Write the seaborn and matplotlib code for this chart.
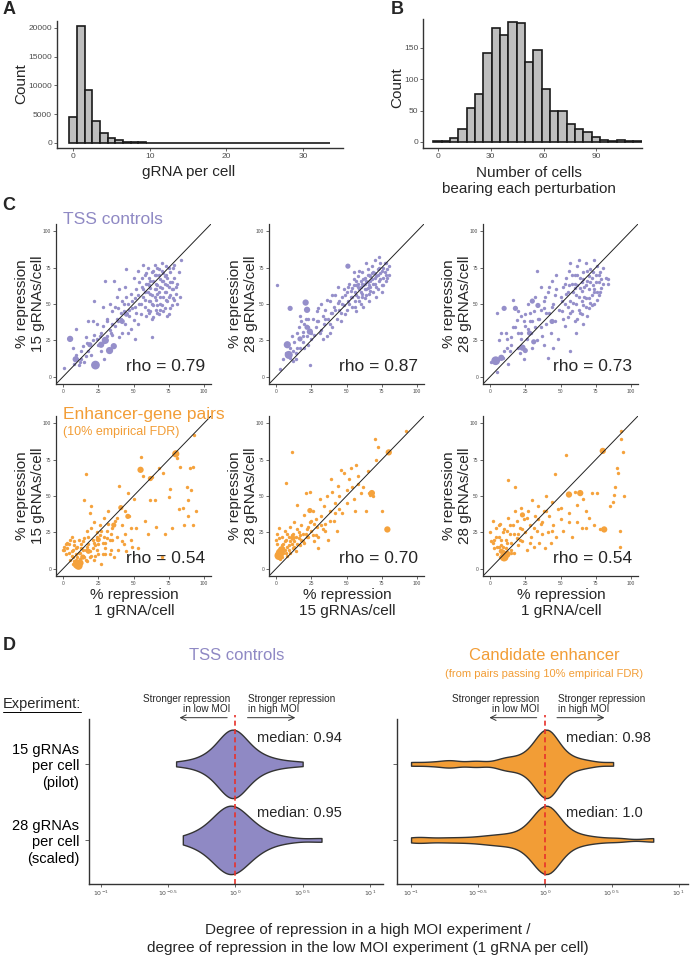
import numpy as np
import pandas as pd
import matplotlib
matplotlib.use('Agg')
import matplotlib.pyplot as plt
from matplotlib.lines import Line2D
import seaborn as sns

# ---------------- data ----------------
# A: gRNA per cell histogram (integer bins)
a_grna = list(range(34))
a_count = [4450, 20400, 9200, 3850, 1750, 880, 470, 240, 140, 90, 60, 40, 30, 22, 16, 12,
           10, 8, 6, 5, 4, 3, 3, 2, 2, 2, 1, 1, 1, 1, 1, 1, 1, 1]

# B: number of cells bearing each perturbation
b_center = [0, 5, 9, 14, 19, 24, 28, 33, 38, 42, 47, 52, 56, 61, 66, 71, 75, 80, 85, 89,
            94, 99, 103, 108, 113]
b_count = [1, 2, 6, 21, 54, 77, 142, 182, 171, 192, 190, 127, 147, 85, 49, 49, 29, 21, 16,
           8, 3, 2, 3, 1, 1]
b_binwidth = 4.72
b_binstart = -2.45

# C: % repression scatter, (x, y) pairs; *_big = (x, y, weight)
tss_1v15 = [
    (56, 62), (57, 55), (58, 70), (58, 48), (59, 64), (60, 58), (60, 75), (61, 52), (61, 68),
    (62, 45), (62, 61), (63, 72), (63, 56), (64, 66), (64, 49), (65, 60), (65, 77), (66, 53),
    (66, 70), (67, 63), (67, 44), (68, 58), (68, 74), (69, 50), (69, 67), (70, 61), (70, 78),
    (71, 55), (71, 71), (72, 47), (72, 64), (73, 58), (73, 76), (74, 52), (74, 68), (75, 62),
    (75, 43), (76, 72), (76, 56), (77, 65), (77, 49), (78, 75), (78, 60), (79, 68), (80, 57),
    (81, 64), (82, 72), (57, 77), (59, 42), (63, 40), (66, 46), (68, 43), (70, 49), (74, 42),
    (79, 53), (83, 55), (84, 80), (62, 66), (65, 70), (67, 57), (69, 62), (71, 66), (60, 64),
    (55, 50), (56, 68), (57, 60), (58, 53), (59, 71), (60, 46), (61, 63), (62, 57), (63, 50),
    (64, 73), (65, 55), (66, 64), (67, 49), (68, 70), (69, 55), (70, 66), (71, 45), (72, 69),
    (73, 53), (74, 63), (75, 75), (76, 47), (77, 60), (78, 54), (79, 77), (80, 62), (81, 50),
    (58, 58), (61, 44), (64, 41), (67, 75), (70, 73), (73, 70), (76, 65), (62, 52), (66, 60),
    (69, 46), (72, 58), (75, 55),
    (36, 66), (38, 55), (39, 47), (40, 60), (41, 40), (42, 52), (43, 45), (44, 62), (44, 36),
    (45, 74), (46, 50), (47, 42), (48, 57), (48, 33), (49, 47), (50, 68), (50, 39), (51, 54),
    (52, 44), (52, 60), (53, 36), (54, 50), (54, 65), (55, 43), (46, 30), (42, 30), (38, 40),
    (35, 45), (33, 50), (37, 35), (53, 73), (51, 26), (63, 27), (40, 27), (35, 29), (53, 56),
    (51, 48), (49, 52), (47, 46), (45, 55), (43, 50), (41, 44), (39, 38), (37, 48), (35, 36),
    (33, 32), (31, 28), (29, 24), (27, 30),
    (1, 6), (7, 20), (9, 33), (9, 15), (10, 12), (12, 10), (14, 21), (15, 10), (17, 23),
    (18, 38), (20, 15), (21, 38), (22, 29), (22, 52), (25, 22), (26, 28), (27, 18), (28, 35),
    (29, 12), (31, 38), (33, 18), (34, 30), (24, 36), (16, 14), (13, 18), (28, 48), (30, 66),
    (31, 40), (24, 26), (21, 25), (18, 18), (16, 27), (13, 12), (11, 8), (8, 9)]
tss_1v15_big = [(23, 8, 4), (30, 25, 3), (33, 18, 3), (36, 21, 2.5), (27, 22, 2.5),
                (19, 22, 2), (5, 26, 2.5), (9, 12, 2.5), (45, 43, 2), (42, 38, 2)]

tss_15v28 = [
    (50, 58), (51, 52), (52, 64), (53, 55), (54, 61), (54, 48), (55, 67), (56, 58), (56, 52),
    (57, 63), (58, 69), (58, 55), (59, 60), (60, 66), (60, 50), (61, 72), (61, 57), (62, 63),
    (63, 68), (63, 54), (64, 60), (65, 74), (65, 65), (66, 57), (66, 70), (67, 62), (68, 76),
    (68, 67), (69, 58), (69, 72), (70, 64), (70, 80), (71, 69), (72, 74), (72, 60), (73, 66),
    (74, 78), (74, 71), (75, 63), (76, 75), (76, 68), (77, 72), (78, 66), (79, 74), (80, 70),
    (62, 48), (57, 45), (66, 52), (71, 55), (64, 78), (59, 73), (55, 72), (75, 58), (78, 78),
    (73, 82), (58, 62), (61, 64), (64, 66), (67, 69), (70, 71),
    (45, 52), (46, 44), (47, 50), (49, 56), (50, 46), (51, 62), (52, 50), (53, 59), (54, 55),
    (55, 63), (56, 48), (57, 56), (58, 64), (59, 52), (60, 62), (61, 55), (62, 67), (63, 60),
    (64, 56), (65, 70), (66, 63), (67, 59), (68, 71), (69, 64), (70, 68), (71, 62), (72, 70),
    (73, 75), (74, 67), (75, 73), (76, 63), (77, 78), (78, 70), (79, 68), (80, 76), (57, 66),
    (63, 64), (67, 66), (60, 58), (65, 61),
    (26, 40), (28, 34), (29, 45), (30, 38), (31, 30), (32, 50), (33, 42), (34, 36), (35, 46),
    (36, 28), (37, 40), (38, 52), (39, 44), (40, 34), (41, 48), (42, 56), (43, 40), (44, 51),
    (45, 46), (46, 38), (47, 55), (48, 49), (49, 43), (44, 62), (40, 56), (36, 53), (48, 60),
    (33, 26), (30, 47), (38, 30), (42, 46), (40, 44), (38, 36), (35, 40), (32, 32), (29, 38),
    (27, 29),
    (1, 63), (3, 5), (5, 12), (7, 16), (10, 13), (12, 18), (13, 24), (14, 12), (15, 30),
    (16, 34), (18, 38), (19, 31), (20, 36), (22, 28), (23, 40), (25, 30), (24, 8), (17, 42),
    (19, 24), (11, 28), (20, 20), (15, 20), (23, 22), (25, 26), (23, 34), (21, 40), (19, 28),
    (17, 20), (14, 16), (12, 11), (10, 20)]
tss_15v28_big = [(8, 22, 3), (9, 15, 3.5), (21, 51, 2.5), (22, 46, 2.5), (24, 31, 2.5),
                 (22, 34, 2), (17, 26, 2), (51, 76, 2), (10, 47, 2)]

tss_1v28 = [
    (50, 55), (51, 45), (52, 62), (53, 50), (54, 68), (55, 41), (55, 58), (56, 73), (57, 52),
    (58, 64), (58, 45), (59, 58), (60, 70), (60, 38), (61, 50), (62, 63), (62, 76), (63, 55),
    (64, 44), (64, 68), (65, 59), (66, 72), (66, 49), (67, 62), (68, 78), (68, 54), (69, 66),
    (70, 47), (70, 60), (71, 74), (72, 56), (72, 68), (73, 63), (74, 80), (74, 50), (75, 70),
    (76, 58), (76, 76), (77, 65), (78, 72), (79, 61), (80, 75), (82, 68), (84, 67), (84, 64),
    (57, 78), (63, 80), (69, 42), (66, 36), (61, 30), (53, 35), (60, 61), (65, 65), (70, 69),
    (51, 52), (52, 40), (53, 64), (54, 57), (55, 48), (56, 63), (57, 44), (58, 70), (59, 51),
    (60, 64), (61, 56), (62, 70), (63, 46), (64, 61), (65, 52), (66, 67), (67, 55), (68, 63),
    (69, 73), (70, 54), (71, 65), (72, 49), (73, 72), (74, 58), (75, 65), (76, 53), (77, 70),
    (78, 58), (79, 67), (80, 64), (62, 40), (65, 43), (68, 48), (71, 51), (74, 60), (77, 56),
    (25, 43), (27, 50), (28, 38), (29, 30), (31, 45), (32, 34), (33, 73), (35, 40),
    (36, 62), (37, 28), (38, 47), (39, 55), (40, 36), (41, 13), (41, 58), (42, 44), (43, 30),
    (44, 66), (45, 50), (46, 38), (47, 60), (48, 26), (49, 46), (38, 22), (33, 25), (45, 20),
    (57, 18), (36, 46), (30, 20), (27, 33), (47, 70), (46, 56), (44, 48), (42, 62), (40, 44),
    (38, 52), (36, 34), (34, 40), (32, 55), (30, 38), (28, 44), (26, 26),
    (1, 10), (5, 3), (5, 44), (6, 25), (9, 13), (11, 30), (12, 20), (14, 18), (15, 27),
    (16, 34), (19, 39), (20, 30), (21, 16), (22, 42), (24, 12), (25, 35), (13, 9), (16, 53),
    (20, 45), (8, 30), (22, 26), (24, 38), (22, 30), (20, 20), (18, 34), (15, 22), (12, 26),
    (10, 18)]
tss_1v28_big = [(4, 11, 4), (8, 13, 2.5), (18, 47, 2), (23, 20, 2.5), (25, 18, 2),
                (28, 30, 2), (31, 24, 2), (30, 52, 2), (10, 47, 2), (44, 38, 2), (34, 49, 2)]

enh_1v15 = [
    (1, 13), (1, 15), (2, 10), (3, 18), (5, 20), (6, 12), (7, 8), (8, 16), (9, 10), (12, 2),
    (13, 14), (14, 19), (15, 8), (15, 47), (16, 65), (17, 26), (19, 38), (20, 43), (21, 20),
    (22, 6), (23, 16), (24, 22), (25, 10), (26, 30), (27, 3), (28, 18), (29, 35), (30, 10),
    (31, 26), (32, 40), (33, 20), (34, 13), (35, 28), (36, 8), (37, 33), (38, 22), (39, 13),
    (40, 57), (42, 30), (43, 17), (44, 24), (45, 12), (46, 52), (47, 36), (48, 20), (49, 15),
    (50, 48), (52, 28), (53, 14), (55, 77), (57, 64), (58, 33), (60, 24), (62, 47), (63, 63),
    (65, 47), (66, 29), (68, 69), (70, 8), (71, 66), (72, 24), (75, 49), (76, 55), (77, 28),
    (81, 76), (82, 41), (83, 70), (85, 42), (86, 30), (88, 56), (89, 36), (89, 47), (90, 69),
    (91, 54), (92, 30), (92, 70), (93, 92), (94, 40),
    (0, 13), (2, 17), (4, 11), (5, 6), (6, 22), (7, 3), (8, 5), (9, 14), (10, 8), (11, 20),
    (12, 11), (13, 4), (14, 9), (16, 13), (17, 5), (18, 17), (19, 8), (20, 28), (21, 14),
    (22, 32), (23, 9), (24, 25), (25, 17), (26, 23), (28, 10), (29, 22), (30, 14), (31, 21),
    (32, 31), (33, 10), (34, 24), (3, 14), (4, 17), (6, 9), (7, 13), (8, 19), (9, 6),
    (10, 15), (11, 11), (12, 7), (13, 17), (14, 13), (15, 21), (16, 6), (17, 15), (18, 22),
    (19, 12), (20, 9), (22, 18), (24, 13), (27, 26), (30, 18), (35, 20), (38, 35), (42, 19),
    (44, 40), (48, 28)]
enh_1v15_big = [(10, 3, 4), (11, 2, 3.5), (12, 4, 3), (55, 68, 2.5), (62, 62, 2),
                (80, 79, 3), (41, 42, 2), (46, 36, 2), (36, 30, 2), (25, 20, 2), (18, 12, 2),
                (14, 8, 2)]

enh_15v28 = [
    (0, 20), (1, 24), (2, 12), (3, 14), (4, 8), (5, 17), (6, 13), (6, 26), (7, 20), (7, 59),
    (8, 15), (9, 22), (10, 11), (10, 29), (11, 17), (11, 80), (12, 24), (13, 19), (13, 32),
    (14, 12), (15, 27), (15, 44), (16, 21), (17, 16), (18, 30), (19, 24), (20, 37), (20, 18),
    (21, 52), (22, 27), (23, 22), (24, 53), (24, 32), (25, 26), (26, 40), (27, 19), (28, 34),
    (29, 29), (30, 14), (31, 48), (32, 36), (33, 27), (34, 43), (35, 31), (36, 50), (37, 20),
    (38, 40), (39, 62), (40, 53), (41, 33), (42, 45), (43, 26), (44, 57), (45, 50), (46, 68),
    (47, 38), (48, 66), (50, 54), (52, 62), (53, 69), (55, 48), (56, 40), (57, 71), (58, 58),
    (60, 52), (62, 56), (64, 40), (65, 67), (66, 52), (67, 51), (69, 50), (70, 89),
    (71, 75), (72, 84), (75, 40), (92, 95), (5, 11), (8, 9), (9, 16), (12, 14), (14, 22),
    (16, 25), (18, 20), (21, 24), (23, 29), (26, 23), (4, 22), (2, 28), (27, 31), (30, 22),
    (1, 17), (2, 21), (3, 7), (4, 16), (5, 14), (6, 19), (7, 11), (8, 24), (9, 13), (10, 19),
    (11, 23), (13, 15), (15, 17), (17, 23), (19, 19), (22, 22), (25, 33), (28, 23), (32, 30),
    (35, 26), (38, 33), (42, 38), (45, 41), (50, 45), (54, 56), (58, 64)]
enh_15v28_big = [(2, 9, 4), (3, 11, 4), (4, 13, 3), (68, 52, 2.5), (79, 27, 2.5),
                 (80, 80, 2.5), (24, 40, 2), (12, 21, 2)]

enh_1v28 = [
    (0, 25), (1, 19), (2, 33), (3, 14), (4, 28), (5, 10), (6, 22), (7, 31), (8, 16), (9, 25),
    (11, 20), (13, 35), (13, 61), (14, 24), (15, 18), (16, 30), (17, 11), (18, 56),
    (18, 40), (19, 21), (20, 16), (21, 28), (22, 42), (23, 19), (24, 34), (25, 25), (26, 13),
    (27, 40), (28, 30), (29, 22), (30, 47), (31, 15), (32, 36), (33, 26), (34, 43), (35, 18),
    (36, 31), (37, 24), (38, 40), (39, 14), (40, 50), (41, 25), (42, 36), (43, 18), (44, 46),
    (45, 30), (46, 65), (47, 22), (48, 41), (50, 34), (52, 26), (54, 78), (56, 38), (58, 22),
    (60, 53), (62, 44), (65, 28), (66, 48), (68, 40), (70, 35), (72, 52), (74, 30), (76, 52),
    (78, 27), (85, 43), (87, 46), (88, 51), (89, 56), (90, 69), (91, 66), (92, 15), (92, 26),
    (93, 89), (93, 95), (94, 80), (95, 50), (3, 20), (6, 15), (9, 12), (12, 26), (15, 11),
    (20, 24), (7, 8), (2, 18), (4, 22), (5, 15), (6, 30), (8, 20), (9, 15), (10, 27),
    (11, 14), (12, 18), (14, 30), (15, 13), (17, 24), (19, 33), (21, 20), (23, 27), (26, 35),
    (28, 18), (31, 28), (34, 34), (37, 32), (40, 40), (44, 26), (50, 42), (56, 32), (62, 32),
    (68, 28)]
enh_1v28_big = [(10, 8, 4), (12, 10, 3), (8, 12, 2), (56, 51, 2.5), (64, 52, 2.5),
                (80, 81, 2.5), (81, 27, 2.5), (23, 37, 2)]

rho_values = ['0.79', '0.87', '0.73', '0.54', '0.70', '0.54']

# D: log10(high MOI / low MOI repression ratio)
experiments = ['15 gRNAs\nper cell\n(pilot)', '28 gRNAs\nper cell\n(scaled)']
tss_pilot = [-0.44, -0.33, -0.26, -0.22, -0.19, -0.16, -0.14, -0.12, -0.10, -0.09, -0.08,
             -0.07, -0.06, -0.05, -0.04, -0.04, -0.03, -0.03, -0.02, -0.02, -0.01, -0.01,
             0.0, 0.0, 0.01, 0.02, 0.03, 0.04, 0.05, 0.06, 0.08, 0.10, 0.12, 0.14, 0.17,
             0.20, 0.24, 0.30, 0.38, 0.50]
tss_scaled = [-0.39, -0.31, -0.26, -0.22, -0.19, -0.16, -0.14, -0.12, -0.11, -0.10, -0.09,
              -0.08, -0.07, -0.06, -0.05, -0.04, -0.03, -0.02, -0.02, -0.01, 0.0, 0.01, 0.02,
              0.03, 0.05, 0.06, 0.08, 0.10, 0.12, 0.15, 0.18, 0.22, 0.28, 0.40, 0.64]
enh_pilot = [-1.0, -0.85, -0.72, -0.70, -0.55, -0.48, -0.33, -0.30, -0.28, -0.22, -0.18,
             -0.15, -0.12, -0.10, -0.08, -0.06, -0.05, -0.04, -0.03, -0.02, -0.01, -0.01,
             0.0, 0.0, 0.01, 0.01, 0.02, 0.02, 0.03, 0.03, 0.04, 0.04, 0.05, 0.06, 0.07,
             0.08, 0.10, 0.12, 0.15, 0.18, 0.22, 0.28, 0.35, 0.51]
enh_scaled = [-1.0, -0.9, -0.75, -0.62, -0.5, -0.42, -0.35, -0.30, -0.24, -0.19, -0.15,
              -0.12, -0.10, -0.08, -0.06, -0.05, -0.04, -0.03, -0.02, -0.01, 0.0, 0.0, 0.01,
              0.01, 0.02, 0.02, 0.03, 0.03, 0.04, 0.05, 0.06, 0.07, 0.08, 0.10, 0.12, 0.15,
              0.19, 0.24, 0.30, 0.40, 0.55, 0.81]
tss_medians = ['0.94', '0.95']
enh_medians = ['0.98', '1.0']
log_ticks = [-1, -0.5, 0, 0.5, 1]
log_ticklabels = ['$10^{-1}$', '$10^{-0.5}$', '$10^{0}$', '$10^{0.5}$', '$10^{1}$']

# ---------------- style ----------------
sns.set_style('ticks')
plt.rcParams['font.family'] = ['Liberation Sans', 'DejaVu Sans']
plt.rcParams['mathtext.fontset'] = 'dejavusans'

PURPLE = '#8F89C4'
ORANGE = '#F29D36'
PURPLE_DOT = '#958FCA'
ORANGE_DOT = '#F5A23C'
AXCOL = '#333333'
TICKCOL = '#4D4D4D'

W, H = 692, 960
fig = plt.figure(figsize=(W / 100, H / 100), dpi=100)


def add_ax(l, t, r, b):
    return fig.add_axes([l / W, 1 - b / H, (r - l) / W, (b - t) / H])


def ftext(x, y, s, **kw):
    kw.setdefault('ha', 'center')
    kw.setdefault('va', 'center')
    fig.text(x / W, 1 - y / H, s, **kw)


def style_ax(ax, tsize, lw=1.0):
    sns.despine(ax=ax)
    for sp in ['left', 'bottom']:
        ax.spines[sp].set_color(AXCOL)
        ax.spines[sp].set_linewidth(lw)
    ax.tick_params(labelsize=tsize, colors=TICKCOL, length=2, width=0.6, pad=1.5)
    ax.set_xlabel('')
    ax.set_ylabel('')


# ---------------- A ----------------
ax = add_ax(57, 21, 343, 148)
sns.histplot(x=a_grna, weights=a_count, discrete=True, color='#BEBEBE', alpha=1,
             edgecolor='#1A1A1A', linewidth=1.2, ax=ax)
ax.set_xlim(-2.1, 35.2)
ax.set_ylim(-870, 21200)
ax.set_xticks([0, 10, 20, 30])
ax.set_yticks([0, 5000, 10000, 15000, 20000])
style_ax(ax, 6)
ftext(21, 84, 'Count', fontsize=11, rotation=90)
ftext(189, 172, 'gRNA per cell', fontsize=11)
ftext(9, 10, 'A', fontsize=13, fontweight='bold')

# ---------------- B ----------------
ax = add_ax(423, 19, 642, 148)
sns.histplot(x=b_center, weights=b_count, binwidth=b_binwidth,
             binrange=(b_binstart, b_binstart + b_binwidth * len(b_center)),
             color='#BEBEBE', alpha=1, edgecolor='#1A1A1A', linewidth=1.2, ax=ax)
ax.set_xlim(-8.3, 115.8)
ax.set_ylim(-9.6, 196)
ax.set_xticks([0, 30, 60, 90])
ax.set_yticks([0, 50, 100, 150])
style_ax(ax, 6)
ftext(397, 88, 'Count', fontsize=11, rotation=90)
ftext(529, 181, 'Number of cells\nbearing each perturbation', fontsize=11, linespacing=1.15)
ftext(397, 9, 'B', fontsize=13, fontweight='bold')

# ---------------- C ----------------
panels = [
    (tss_1v15, tss_1v15_big, PURPLE_DOT, '15 gRNAs/cell', '1 gRNA/cell'),
    (tss_15v28, tss_15v28_big, PURPLE_DOT, '28 gRNAs/cell', '15 gRNAs/cell'),
    (tss_1v28, tss_1v28_big, PURPLE_DOT, '28 gRNAs/cell', '1 gRNA/cell'),
    (enh_1v15, enh_1v15_big, ORANGE_DOT, '15 gRNAs/cell', '1 gRNA/cell'),
    (enh_15v28, enh_15v28_big, ORANGE_DOT, '28 gRNAs/cell', '15 gRNAs/cell'),
    (enh_1v28, enh_1v28_big, ORANGE_DOT, '28 gRNAs/cell', '1 gRNA/cell'),
]
col_left = [56, 269, 483]
row_top = [224, 416]
for i, (pts, big, col, ylab, xlab) in enumerate(panels):
    r, c = divmod(i, 3)
    l, t = col_left[c], row_top[r]
    ax = add_ax(l, t, l + 155, t + 160)
    df = pd.DataFrame(pts, columns=['x', 'y'])
    dfb = pd.DataFrame(big, columns=['x', 'y', 'n'])
    sns.scatterplot(data=df, x='x', y='y', color=col, s=6, linewidth=0, ax=ax)
    sns.scatterplot(data=dfb, x='x', y='y', size='n', sizes=(14, 40), size_norm=(2, 4),
                    color=col, linewidth=0, legend=False, ax=ax)
    ax.axline((0, 0), slope=1, color='#222222', lw=0.7)
    ax.set_xlim(-5, 105)
    ax.set_ylim(-5, 105)
    ax.set_xticks([0, 25, 50, 75, 100])
    ax.set_yticks([0, 25, 50, 75, 100])
    style_ax(ax, 3.5, lw=0.9)
    ax.text(0.96, 0.06, 'rho = ' + rho_values[i], transform=ax.transAxes, ha='right',
            va='bottom', fontsize=12.5)
    ftext(l - 26, t + 80, '% repression\n' + ylab, fontsize=11, rotation=90,
          linespacing=1.15)
    if r == 1:
        ftext(l + 78, 603, '% repression\n' + xlab, fontsize=11, linespacing=1.15)

ftext(9, 206, 'C', fontsize=13, fontweight='bold')
ftext(63, 219, 'TSS controls', fontsize=12.5, color=PURPLE, ha='left')
ftext(63, 414, 'Enhancer-gene pairs', fontsize=12.5, color=ORANGE, ha='left')
ftext(63, 432, '(10% empirical FDR)', fontsize=9, color=ORANGE, ha='left')

# ---------------- D ----------------
d_sets = [
    (tss_pilot, tss_scaled, PURPLE, tss_medians, (89, 719, 383, 884), (-1.087, 1.097), 1.0),
    (enh_pilot, enh_scaled, ORANGE, enh_medians, (397, 719, 688, 884), (-1.105, 1.07), 0.5),
]
for j, (pilot, scaled, col, meds, box, xlim, bwa) in enumerate(d_sets):
    ax = add_ax(*box)
    df = pd.DataFrame({
        'experiment': [experiments[0]] * len(pilot) + [experiments[1]] * len(scaled),
        'log_ratio': pilot + scaled,
    })
    sns.violinplot(data=df, x='log_ratio', y='experiment', order=experiments, color=col,
                   inner=None, cut=0, density_norm='width', width=0.9, bw_adjust=bwa,
                   linewidth=1.0, linecolor='#333333', saturation=1, ax=ax)
    for coll in ax.collections:
        coll.set_alpha(1)
    ax.set_xlim(*xlim)
    ax.set_ylim(1.58, -0.59)
    ax.set_xticks(log_ticks)
    ax.set_xticklabels(log_ticklabels)
    style_ax(ax, 4.5, lw=1.0)
    ax.tick_params(axis='y', length=3, pad=4)
    ax.set_yticks([0, 1])
    if j == 0:
        ax.set_yticklabels(experiments, fontsize=10.5, color='black', linespacing=1.2)
    else:
        ax.set_yticklabels(['', ''])
    ax.axvline(0, ymin=0, ymax=1.025, color='#E8322B', ls=(0, (3, 2)), lw=1.2,
               clip_on=False)
    trans = ax.get_xaxis_transform()
    ax.annotate('', xy=(-0.435, 1.008), xytext=(-0.04, 1.008), xycoords=trans,
                arrowprops=dict(arrowstyle='->', lw=0.7, color='#333333'),
                annotation_clip=False)
    ax.annotate('', xy=(0.466, 1.008), xytext=(0.07, 1.008), xycoords=trans,
                arrowprops=dict(arrowstyle='->', lw=0.7, color='#333333'),
                annotation_clip=False)
    ax.text(-0.04, 1.028, 'Stronger repression\nin low MOI', transform=trans, ha='right',
            va='bottom', fontsize=7.2, multialignment='right', linespacing=1.05)
    ax.text(0.095, 1.028, 'Stronger repression\nin high MOI', transform=trans, ha='left',
            va='bottom', fontsize=7.2, multialignment='left', linespacing=1.05)
    ax.text(0.16, -0.34, 'median: ' + meds[0], fontsize=10.5, va='center', ha='left')
    ax.text(0.16, 0.64, 'median: ' + meds[1], fontsize=10.5, va='center', ha='left')

ftext(9, 646, 'D', fontsize=13, fontweight='bold')
ftext(237, 656, 'TSS controls', fontsize=12, color=PURPLE)
ftext(544, 656, 'Candidate enhancer', fontsize=12, color=ORANGE)
ftext(544, 674, '(from pairs passing 10% empirical FDR)', fontsize=8, color=ORANGE)
ftext(3, 704, 'Experiment:', fontsize=10.5, ha='left')
fig.add_artist(Line2D([3 / W, 81 / W], [1 - 712 / H, 1 - 712 / H], color='black', lw=0.7))
ftext(368, 939, 'Degree of repression in a high MOI experiment /\n'
      'degree of repression in the low MOI experiment (1 gRNA per cell)',
      fontsize=11, linespacing=1.3)

fig.savefig('out.png', dpi=100)
